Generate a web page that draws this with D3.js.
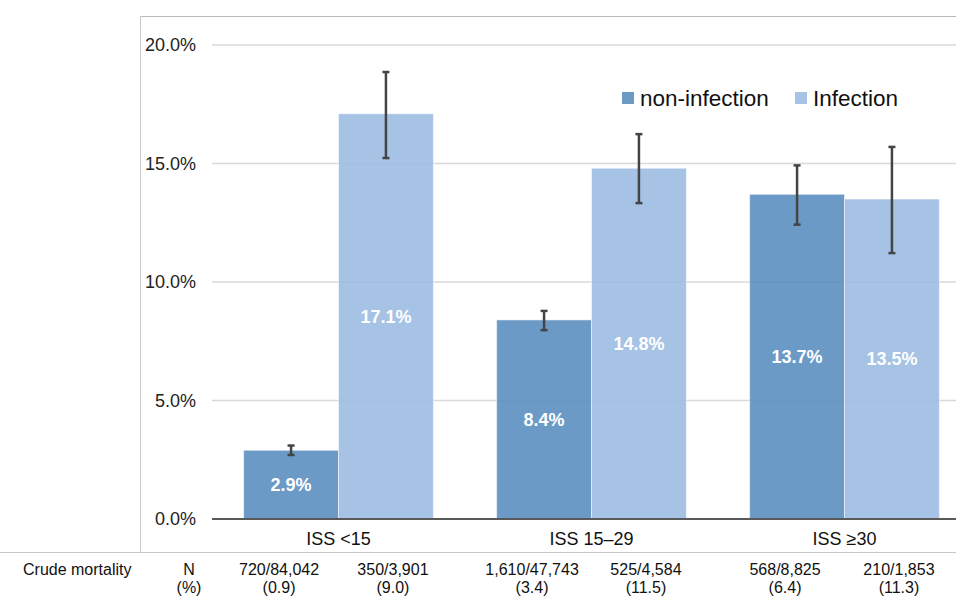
<!DOCTYPE html>
<html>
<head>
<meta charset="utf-8">
<script src="https://cdn.jsdelivr.net/npm/d3@7"></script>
<style>
  body { margin: 0; background: #fff; }
  text { font-family: Arial, "Liberation Sans", sans-serif; }
</style>
</head>
<body>
<svg class="chart"></svg>
<script>
const categories = ["ISS <15", "ISS 15\u201329", "ISS \u226530"];
const series = ["non-infection", "Infection"];
const nonInfection = [2.9, 8.4, 13.7];
const infection = [17.1, 14.8, 13.5];
const nonInfectionErr = [[2.7, 3.1], [7.97, 8.78], [12.42, 14.92]];
const infectionErr = [[15.23, 18.86], [13.33, 16.24], [11.22, 15.7]];
const yTicks = [0, 5, 10, 15, 20];
const crudeN = [["720/84,042", "350/3,901"], ["1,610/47,743", "525/4,584"], ["568/8,825", "210/1,853"]];
const crudePct = [["(0.9)", "(9.0)"], ["(3.4)", "(11.5)"], ["(6.4)", "(11.3)"]];

const width = 956, height = 598;
const colors = {"non-infection": "#5b8fc0", "Infection": "#9cbce3"};

const rows = categories.map((c, i) => ({
    cat: c,
    values: [
        {key: series[0], v: nonInfection[i], err: nonInfectionErr[i], n: crudeN[i][0], pct: crudePct[i][0]},
        {key: series[1], v: infection[i], err: infectionErr[i], n: crudeN[i][1], pct: crudePct[i][1]}
    ]
}));

const svg = d3.select(".chart")
    .attr('width', width)
    .attr('height', height);

// frame around the chart area
svg.append('line').attr('x1', 141).attr('x2', width).attr('y1', 16.5).attr('y2', 16.5)
    .style('stroke', '#b8b8b8');
svg.append('line').attr('x1', 140.5).attr('x2', 140.5).attr('y1', 16).attr('y2', 553)
    .style('stroke', '#c8c8c8');
svg.append('line').attr('x1', 0).attr('x2', width).attr('y1', 552.5).attr('y2', 552.5)
    .style('stroke', '#c8c8c8');

const x = d3.scaleBand()
    .domain(categories)
    .range([212, 971])
    .paddingInner(0.25)
    .paddingOuter(0.125);

const xs = d3.scaleBand()
    .domain(series)
    .range([0, x.bandwidth()]);

const y = d3.scaleLinear()
    .domain([0, 20])
    .range([519, 45]);

// gridlines
svg.append('g')
    .selectAll('line')
    .data(yTicks.filter(d => d > 0))
    .enter().append('line')
    .attr('x1', 212).attr('x2', width)
    .attr('y1', d => y(d)).attr('y2', d => y(d))
    .style('stroke', '#d9d9d9')
    .style('stroke-width', 1.5);

// y axis labels
const yAxis = svg.append('g')
    .attr('transform', 'translate(212,0)')
    .call(d3.axisLeft(y).tickValues(yTicks).tickFormat(d => d.toFixed(1) + '%').tickSize(0).tickPadding(16));
yAxis.select('.domain').remove();
yAxis.selectAll('text')
    .style('font-size', '18px')
    .style('fill', '#222');

// bars
const group = svg.selectAll('.group')
    .data(rows)
    .enter().append('g')
    .attr('class', 'group')
    .attr('transform', d => `translate(${x(d.cat)},0)`);

group.selectAll('rect')
    .data(d => d.values)
    .enter().append('rect')
    .attr('x', d => xs(d.key))
    .attr('y', d => y(d.v))
    .attr('width', xs.bandwidth())
    .attr('height', d => y(0) - y(d.v))
    .style('fill', d => colors[d.key])
    .style('fill-opacity', 0.9)
    .style('stroke', '#fff')
    .style('stroke-opacity', 0.5)
    .style('stroke-width', 1);

// value labels inside the bars
group.selectAll('.val')
    .data(d => d.values)
    .enter().append('text')
    .attr('class', 'val')
    .attr('x', d => xs(d.key) + xs.bandwidth() / 2)
    .attr('y', d => (y(d.v) + y(0)) / 2)
    .attr('dy', '0.35em')
    .attr('text-anchor', 'middle')
    .style('fill', '#fff')
    .style('font-weight', 'bold')
    .style('font-size', '18px')
    .text(d => d.v.toFixed(1) + '%');

// error bars
const eb = group.selectAll('.err')
    .data(d => d.values)
    .enter().append('g')
    .attr('class', 'err')
    .style('stroke', '#444')
    .style('stroke-width', 2.5);
eb.append('line')
    .attr('x1', d => xs(d.key) + xs.bandwidth() / 2)
    .attr('x2', d => xs(d.key) + xs.bandwidth() / 2)
    .attr('y1', d => y(d.err[0]))
    .attr('y2', d => y(d.err[1]));
eb.selectAll('.cap')
    .data(d => [d.err[0], d.err[1]].map(e => ({e: e, key: d.key})))
    .enter().append('line')
    .attr('x1', d => xs(d.key) + xs.bandwidth() / 2 - 3.5)
    .attr('x2', d => xs(d.key) + xs.bandwidth() / 2 + 3.5)
    .attr('y1', d => y(d.e))
    .attr('y2', d => y(d.e));

// baseline
svg.append('line')
    .attr('x1', 212).attr('x2', width)
    .attr('y1', y(0)).attr('y2', y(0))
    .style('stroke', '#595959')
    .style('stroke-width', 2);

// category labels
svg.selectAll('.cat')
    .data(categories)
    .enter().append('text')
    .attr('class', 'cat')
    .attr('x', d => x(d) + x.bandwidth() / 2)
    .attr('y', 545)
    .attr('text-anchor', 'middle')
    .style('font-size', '18px')
    .style('fill', '#111')
    .text(d => d);

// legend
const legend = svg.append('g').attr('transform', 'translate(622,92)');
const legendX = [0, 173];
series.forEach((s, i) => {
    legend.append('rect')
        .attr('x', legendX[i]).attr('y', 0)
        .attr('width', 12).attr('height', 12)
        .style('fill', colors[s]).style('fill-opacity', 0.9);
    legend.append('text')
        .attr('x', legendX[i] + 18).attr('y', 14)
        .style('font-size', '22.5px')
        .style('fill', '#111')
        .text(s);
});

// crude mortality table
svg.append('text').attr('x', 23).attr('y', 575)
    .style('font-size', '16px').style('fill', '#111').text('Crude mortality');
svg.append('text').attr('x', 189).attr('y', 575).attr('text-anchor', 'middle')
    .style('font-size', '16px').style('fill', '#111').text('N');
svg.append('text').attr('x', 189).attr('y', 593).attr('text-anchor', 'middle')
    .style('font-size', '16px').style('fill', '#111').text('(%)');

const tableShift = {"non-infection": -12, "Infection": 7};
const cell = group.selectAll('.cell')
    .data(d => d.values)
    .enter().append('g')
    .attr('class', 'cell')
    .attr('transform', d => `translate(${xs(d.key) + xs.bandwidth() / 2 + tableShift[d.key]},0)`);
cell.append('text').attr('y', 575).attr('text-anchor', 'middle')
    .style('font-size', '16px').style('fill', '#111').text(d => d.n);
cell.append('text').attr('y', 593).attr('text-anchor', 'middle')
    .style('font-size', '16px').style('fill', '#111').text(d => d.pct);
</script>
</body>
</html>
